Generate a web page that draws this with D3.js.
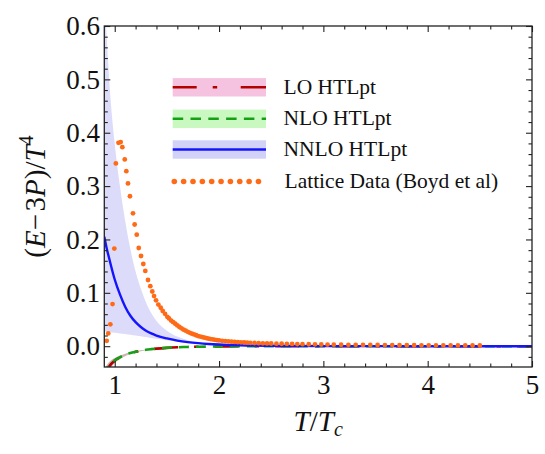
<!DOCTYPE html>
<html><head><meta charset="utf-8">
<script src="https://cdn.jsdelivr.net/npm/d3@7"></script>
<style>
html,body{margin:0;padding:0;background:#fff;}
</style></head>
<body>
<svg id="chart" width="545" height="454"></svg>
<script>
// ---- data ----
const curveT   = [0.9,0.92,0.95,1.0,1.05,1.1,1.15,1.2,1.25,1.3,1.35,1.4,1.5,1.6,1.7,1.8,1.9,2.0,2.2,2.5,3.0,3.5,4.0,4.5,5.0];
const nnlo     = [0.205,0.186,0.162,0.125,0.097,0.074,0.057,0.045,0.036,0.029,0.024,0.020,0.0145,0.0105,0.0077,0.0057,0.0042,0.0031,0.0017,0.0008,0.0002,0.0001,0,0,0];
const nnloHigh = [0.66,0.59,0.49,0.38,0.30,0.235,0.182,0.14,0.108,0.082,0.062,0.047,0.029,0.018,0.011,0.007,0.0045,0.003,0.0013,0.0004,0.0001,0,0,0,0];
const nnloLow  = [0.028,0.027,0.026,0.025,0.024,0.023,0.0215,0.02,0.0185,0.017,0.0155,0.014,0.011,0.0085,0.0063,0.0045,0.0032,0.0022,0.001,0.0003,0,0,0,0,0];
const loHTL    = [-0.056,-0.047,-0.037,-0.027,-0.021,-0.0165,-0.013,-0.0105,-0.0085,-0.0068,-0.0056,-0.0046,-0.0031,-0.0021,-0.0015,-0.001,-0.0007,-0.0005,-0.0002,-0.0001,0,0,0,0,0];
const nloHTL   = [-0.055,-0.046,-0.036,-0.0265,-0.0207,-0.0163,-0.0128,-0.0104,-0.0084,-0.0067,-0.0055,-0.0045,-0.003,-0.002,-0.0014,-0.001,-0.0007,-0.0005,-0.0002,-0.0001,0,0,0,0,0];
const loWidth  = [0.013,0.011,0.008,0.005,0.0035,0.0025,0.0018,0.0013,0.001,0.0008,0.0006,0.0005,0.0003,0.0002,0.0001,0,0,0,0,0,0,0,0,0,0];
const nloWidth = [0.011,0.009,0.007,0.0045,0.003,0.0022,0.0016,0.0012,0.0009,0.0007,0.0005,0.0004,0.0003,0.0002,0.0001,0,0,0,0,0,0,0,0,0,0];

const latticeT = [0.923,0.938,0.958,0.979,0.996,1.011,1.036,1.057,1.073,1.096,1.111,1.127,1.146,1.175,1.191,1.211,1.230,1.252,1.274,1.293,1.319,1.341,1.360,1.377,1.396,1.418,1.441,1.460,1.482,1.504,
  1.52,1.54,1.56,1.58,1.60,1.62,1.64,1.66,1.68,1.70,1.72,1.74,1.76,1.78,1.80,1.82,1.84,1.86,1.88,1.90,1.92,1.94,1.96,1.98,2.00,
  2.03,2.06,2.09,2.12,2.15,2.18,2.21,2.24,2.27,2.30,2.34,2.38,2.42,2.46,2.50,2.55,2.60,2.65,2.70,2.75,2.80,2.86,2.92,2.98,
  3.04,3.10,3.17,3.24,3.31,3.38,3.45,3.52,3.59,3.66,3.73,3.80,3.87,3.94,4.01,4.08,4.15,4.22,4.29,4.36,4.43,4.50];
const latticeE = [0.010,0.024,0.041,0.079,0.183,0.3425,0.381,0.3825,0.373,0.350,0.328,0.305,0.281,0.249,0.228,0.209,0.184,0.169,0.154,0.141,0.124,0.1125,0.1025,0.094,0.086,0.078,0.072,0.066,0.0606,0.055,
  0.052,0.048,0.045,0.042,0.039,0.036,0.0335,0.031,0.029,0.027,0.025,0.0235,0.022,0.0205,0.019,0.018,0.017,0.016,0.015,0.014,0.0133,0.0126,0.012,0.0113,0.0108,
  0.0101,0.0095,0.009,0.0085,0.008,0.0076,0.0072,0.0069,0.0066,0.0063,0.006,0.0057,0.0054,0.0052,0.005,0.0048,0.0046,0.0044,0.0042,0.004,0.0038,0.0036,0.0034,0.0032,
  0.003,0.0029,0.0027,0.0026,0.0025,0.0024,0.0023,0.0022,0.0021,0.002,0.0019,0.0018,0.0018,0.0017,0.0016,0.0016,0.0015,0.0015,0.0014,0.0014,0.0013,0.0013];

const xTicks = [1,2,3,4,5];
const yTicks = [0.0,0.1,0.2,0.3,0.4,0.5,0.6];
const legendLabels = ["LO HTLpt","NLO HTLpt","NNLO HTLpt","Lattice Data (Boyd et al)"];

// ---- layout ----
const FONT = "Liberation Serif";
const L=104.3, R=532, T=26, B=367;
const svg = d3.select("#chart");
const x = d3.scaleLinear().domain([0.9,5]).range([L,R]);
const y = d3.scaleLinear().domain([-0.039,0.6]).range([B,T]);

const C = {
  blueBand:"#dcdcfa", blueLine:"#1414ff",
  pink:"rgb(220,40,140)", green:"rgb(0,215,0)",
  red:"#b30000", greenLine:"#16a016", orange:"#ff6a16"
};

svg.append("clipPath").attr("id","clip").append("rect")
  .attr("x",L).attr("y",T).attr("width",R-L).attr("height",B-T);
const plot = svg.append("g").attr("clip-path","url(#clip)");

const rows = curveT.map((t,i)=>({t,i}));
const area = (lo,hi)=>d3.area().x(d=>x(d.t)).y0(d=>y(lo(d.i))).y1(d=>y(hi(d.i))).curve(d3.curveMonotoneX);
const line = (f)=>d3.line().x(d=>x(d.t)).y(d=>y(f(d.i))).curve(d3.curveMonotoneX);

// bands
plot.append("path").datum(rows).attr("d",area(i=>nnloLow[i],i=>nnloHigh[i])).attr("fill",C.blueBand);
plot.append("path").datum(rows).attr("d",area(i=>nloHTL[i]-nloWidth[i],i=>nloHTL[i]+nloWidth[i]))
  .attr("fill",C.green).attr("fill-opacity",0.25);
plot.append("path").datum(rows).attr("d",area(i=>loHTL[i]-loWidth[i],i=>loHTL[i]+loWidth[i]))
  .attr("fill",C.pink).attr("fill-opacity",0.3);

// lines
plot.append("path").datum(rows).attr("d",line(i=>loHTL[i])).attr("fill","none")
  .attr("stroke",C.red).attr("stroke-width",2.6).attr("stroke-dasharray","24 16 4.5 16");
plot.append("path").datum(rows).attr("d",line(i=>nloHTL[i])).attr("fill","none")
  .attr("stroke",C.greenLine).attr("stroke-width",2.6).attr("stroke-dasharray","10 7");
plot.append("path").datum(rows).attr("d",line(i=>nnlo[i])).attr("fill","none")
  .attr("stroke",C.blueLine).attr("stroke-width",2.4);

// lattice points
plot.selectAll("circle.lat").data(latticeT.map((t,i)=>({t,e:latticeE[i]}))).join("circle")
  .attr("class","lat").attr("cx",d=>x(d.t)).attr("cy",d=>y(d.e)).attr("r",2.4).attr("fill",C.orange);

// ---- axes (Mathematica-style frame, inward ticks) ----
const xMinor = d3.range(1.2,5,0.2).filter(v=>Math.abs(v-Math.round(v))>1e-6);
const yMinor = d3.range(-0.02,0.6,0.02).filter(v=>Math.abs(v*10-Math.round(v*10))>1e-6);
const fontTick = 27;

function styleAxis(g){
  g.attr("font-family",null);
  g.select(".domain").remove();
  g.selectAll(".tick line").attr("stroke","#222").attr("stroke-width",1.1);
  g.selectAll(".tick text").attr("fill","#111").attr("font-size",fontTick).style("font-family",FONT);
}
svg.append("g").attr("transform",`translate(0,${B})`)
  .call(d3.axisBottom(x).tickValues(xTicks).tickSize(-6).tickPadding(7.5).tickFormat(d3.format("d"))).call(styleAxis);
svg.append("g").attr("transform",`translate(0,${B})`)
  .call(d3.axisBottom(x).tickValues(xMinor).tickSize(-3.5).tickFormat("")).call(styleAxis);
svg.append("g").attr("transform",`translate(0,${T})`)
  .call(d3.axisTop(x).tickValues(xTicks).tickSize(-6).tickFormat("")).call(styleAxis);
svg.append("g").attr("transform",`translate(0,${T})`)
  .call(d3.axisTop(x).tickValues(xMinor).tickSize(-3.5).tickFormat("")).call(styleAxis);
svg.append("g").attr("transform",`translate(${L},0)`)
  .call(d3.axisLeft(y).tickValues(yTicks).tickSize(-6).tickPadding(4.3).tickFormat(d3.format(".1f"))).call(styleAxis);
svg.append("g").attr("transform",`translate(${L},0)`)
  .call(d3.axisLeft(y).tickValues(yMinor).tickSize(-3.5).tickFormat("")).call(styleAxis);
svg.append("g").attr("transform",`translate(${R},0)`)
  .call(d3.axisRight(y).tickValues(yTicks).tickSize(-6).tickFormat("")).call(styleAxis);
svg.append("g").attr("transform",`translate(${R},0)`)
  .call(d3.axisRight(y).tickValues(yMinor).tickSize(-3.5).tickFormat("")).call(styleAxis);

svg.append("rect").attr("x",L).attr("y",T).attr("width",R-L).attr("height",B-T)
  .attr("fill","none").attr("stroke","#222").attr("stroke-width",1.3);

// ---- axis titles ----
const xt = svg.append("text").attr("x",(L+R)/2).attr("y",430.5).attr("text-anchor","middle")
  .attr("font-size",29).attr("fill","#111").style("font-family",FONT);
xt.append("tspan").attr("font-style","italic").text("T");
xt.append("tspan").text("/");
xt.append("tspan").attr("font-style","italic").text("T");
xt.append("tspan").attr("font-style","italic").attr("font-size",20).attr("dy",5).text("c");

const yt = svg.append("text").attr("transform",`translate(45,${(T+B)/2}) rotate(-90)`)
  .attr("text-anchor","middle").attr("font-size",29).attr("fill","#111").style("font-family",FONT);
yt.append("tspan").text("(");
yt.append("tspan").attr("font-style","italic").text("E");
yt.append("tspan").text("\u2212\u200a3");
yt.append("tspan").attr("font-style","italic").text("P");
yt.append("tspan").text(")/");
yt.append("tspan").attr("font-style","italic").text("T");
yt.append("tspan").attr("font-size",20).attr("dy",-12).text("4");

// ---- legend ----
const lgX0 = 172.7, lgX1 = 266, lgText = 283.5;
const lgY = [87.3,118.8,149.5,181.5];
const lg = svg.append("g");
lg.append("rect").attr("x",lgX0).attr("y",lgY[0]-9.2).attr("width",lgX1-lgX0).attr("height",18.4).attr("fill","#f5c3df");
lg.append("rect").attr("x",lgX0).attr("y",lgY[1]-9.2).attr("width",lgX1-lgX0).attr("height",18.4).attr("fill","#c9f8c0");
lg.append("rect").attr("x",lgX0).attr("y",lgY[2]-9.2).attr("width",lgX1-lgX0).attr("height",18.4).attr("fill","#d2d2f8");
lg.append("line").attr("x1",lgX0).attr("x2",lgX1).attr("y1",lgY[0]).attr("y2",lgY[0])
  .attr("stroke",C.red).attr("stroke-width",2.6).attr("stroke-dasharray","24 16 4.5 23.5 26");
lg.append("line").attr("x1",lgX0).attr("x2",lgX1).attr("y1",lgY[1]).attr("y2",lgY[1])
  .attr("stroke",C.greenLine).attr("stroke-width",2.6).attr("stroke-dasharray","10.5 7.3");
lg.append("line").attr("x1",lgX0).attr("x2",lgX1).attr("y1",lgY[2]).attr("y2",lgY[2])
  .attr("stroke",C.blueLine).attr("stroke-width",2.6);
lg.selectAll("circle").data(d3.range(10)).join("circle")
  .attr("cx",i=>174.3+i*9.35).attr("cy",lgY[3]).attr("r",2.8).attr("fill",C.orange);
lg.selectAll("text").data(legendLabels).join("text")
  .attr("x",(d,i)=>i===3?lgText+1:lgText).attr("y",(d,i)=>lgY[i]+6.2)
  .attr("font-size",21.5).attr("fill","#111").style("font-family",FONT).text(d=>d);
</script>
</body></html>
